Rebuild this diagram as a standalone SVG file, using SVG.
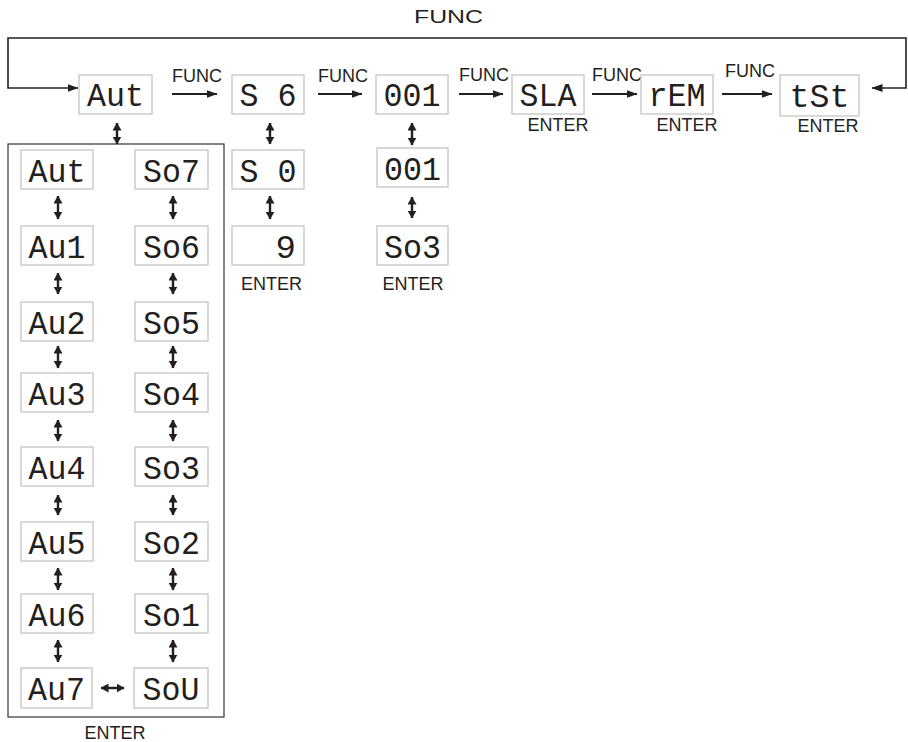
<svg xmlns="http://www.w3.org/2000/svg" width="908" height="742" viewBox="0 0 908 742">
<style>
.lbl{font-family:"Liberation Sans",Arial,sans-serif;font-size:18px;fill:#231f20;text-anchor:middle}
.seg{font-family:"Liberation Mono","DejaVu Sans Mono",monospace;font-size:34px;fill:#231f20;text-anchor:middle}
.box{fill:#fff;stroke:#cccccc;stroke-width:1.5}
.frame{fill:none;stroke:#333;stroke-width:1.2}
.ln{fill:none;stroke:#231f20;stroke-width:2}
.dl{fill:none;stroke:#231f20;stroke-width:2.4}
.lp{fill:none;stroke:#231f20;stroke-width:1.6}
</style>
<defs>
<marker id="ah" viewBox="0 0 11 8" refX="10.5" refY="4" markerWidth="11" markerHeight="8" orient="auto-start-reverse" markerUnits="userSpaceOnUse"><path d="M0,0 L11,4 L0,8 z" fill="#231f20"/></marker>
<marker id="dh" viewBox="0 0 8 9" refX="7.5" refY="4.5" markerWidth="8" markerHeight="9" orient="auto-start-reverse" markerUnits="userSpaceOnUse"><path d="M0,0 L8,4.5 L0,9 z" fill="#231f20"/></marker>
</defs>
<rect width="908" height="742" fill="#fff"/>

<g id="connectors">
<text class="lbl" x="448.5" y="23" textLength="69" lengthAdjust="spacingAndGlyphs">FUNC</text>
<path class="lp" d="M872,88 H906 V38 H8 V88 H78" marker-start="url(#ah)" marker-end="url(#ah)"/>
<line class="ln" x1="172" y1="94" x2="217" y2="94" marker-end="url(#ah)"/>
<text class="lbl" x="197" y="82">FUNC</text>
<line class="ln" x1="318" y1="94" x2="362" y2="94" marker-end="url(#ah)"/>
<text class="lbl" x="343" y="82">FUNC</text>
<line class="ln" x1="459" y1="94" x2="503" y2="94" marker-end="url(#ah)"/>
<text class="lbl" x="484" y="81">FUNC</text>
<line class="ln" x1="592" y1="94" x2="637" y2="94" marker-end="url(#ah)"/>
<text class="lbl" x="617" y="81">FUNC</text>
<line class="ln" x1="722" y1="94" x2="772" y2="94" marker-end="url(#ah)"/>
<text class="lbl" x="750" y="77">FUNC</text>
<line class="dl" x1="117" y1="123" x2="117" y2="144" marker-start="url(#dh)" marker-end="url(#dh)"/>
<line class="dl" x1="270" y1="123" x2="270" y2="144" marker-start="url(#dh)" marker-end="url(#dh)"/>
<line class="dl" x1="412" y1="123" x2="412" y2="145" marker-start="url(#dh)" marker-end="url(#dh)"/>
<line class="dl" x1="270" y1="196" x2="270" y2="219" marker-start="url(#dh)" marker-end="url(#dh)"/>
<line class="dl" x1="412" y1="197" x2="412" y2="218" marker-start="url(#dh)" marker-end="url(#dh)"/>
<g id="col-arrows">
<line class="dl" x1="58" y1="196" x2="58" y2="219" marker-start="url(#dh)" marker-end="url(#dh)"/>
<line class="dl" x1="173" y1="196" x2="173" y2="219" marker-start="url(#dh)" marker-end="url(#dh)"/>
<line class="dl" x1="58" y1="273" x2="58" y2="294" marker-start="url(#dh)" marker-end="url(#dh)"/>
<line class="dl" x1="173" y1="273" x2="173" y2="294" marker-start="url(#dh)" marker-end="url(#dh)"/>
<line class="dl" x1="58" y1="346" x2="58" y2="368" marker-start="url(#dh)" marker-end="url(#dh)"/>
<line class="dl" x1="173" y1="346" x2="173" y2="368" marker-start="url(#dh)" marker-end="url(#dh)"/>
<line class="dl" x1="58" y1="420" x2="58" y2="441" marker-start="url(#dh)" marker-end="url(#dh)"/>
<line class="dl" x1="173" y1="420" x2="173" y2="441" marker-start="url(#dh)" marker-end="url(#dh)"/>
<line class="dl" x1="58" y1="495" x2="58" y2="515" marker-start="url(#dh)" marker-end="url(#dh)"/>
<line class="dl" x1="173" y1="495" x2="173" y2="515" marker-start="url(#dh)" marker-end="url(#dh)"/>
<line class="dl" x1="58" y1="568" x2="58" y2="590" marker-start="url(#dh)" marker-end="url(#dh)"/>
<line class="dl" x1="173" y1="568" x2="173" y2="590" marker-start="url(#dh)" marker-end="url(#dh)"/>
<line class="dl" x1="58" y1="640" x2="58" y2="662" marker-start="url(#dh)" marker-end="url(#dh)"/>
<line class="dl" x1="173" y1="640" x2="173" y2="662" marker-start="url(#dh)" marker-end="url(#dh)"/>
<line class="dl" x1="101" y1="688" x2="124" y2="688" marker-start="url(#dh)" marker-end="url(#dh)"/>
</g>
</g>

<g id="mode-frame">
<rect class="frame" x="8" y="144" width="216" height="573"/>
<text class="lbl" x="115" y="739">ENTER</text>
</g>

<g id="n-aut"><rect class="box" x="79" y="75" width="73" height="39"/><text class="seg" x="115.5" y="106" textLength="57" lengthAdjust="spacingAndGlyphs">Aut</text></g>
<g id="n-s6"><rect class="box" x="232" y="75" width="72" height="39"/><text class="seg" x="268" y="106" textLength="57" lengthAdjust="spacingAndGlyphs" xml:space="preserve">S 6</text></g>
<g id="n-001"><rect class="box" x="376" y="75" width="72" height="39"/><text class="seg" x="412" y="106" textLength="57" lengthAdjust="spacingAndGlyphs">001</text></g>
<g id="n-sla"><rect class="box" x="512" y="75" width="72" height="39"/><text class="seg" x="548" y="106" textLength="57" lengthAdjust="spacingAndGlyphs">SLA</text><text class="lbl" x="558" y="131">ENTER</text></g>
<g id="n-rem"><rect class="box" x="641" y="75" width="72" height="39"/><text class="seg" x="677" y="106" textLength="57" lengthAdjust="spacingAndGlyphs">rEM</text><text class="lbl" x="687" y="131">ENTER</text></g>
<g id="n-tst"><rect class="box" x="780" y="75" width="79" height="41"/><text class="seg" x="819.5" y="107" textLength="60" lengthAdjust="spacingAndGlyphs">tSt</text><text class="lbl" x="828" y="132">ENTER</text></g>

<g id="n-s0"><rect class="box" x="232" y="150" width="72" height="39"/><text class="seg" x="268" y="182" textLength="57" lengthAdjust="spacingAndGlyphs" xml:space="preserve">S 0</text></g>
<g id="n-9"><rect class="box" x="232" y="226" width="72" height="39"/><text class="seg" x="296" y="258" style="text-anchor:end">9</text><text class="lbl" x="271.5" y="290">ENTER</text></g>
<g id="n-001b"><rect class="box" x="377" y="148" width="71" height="39"/><text class="seg" x="412.5" y="180" textLength="57" lengthAdjust="spacingAndGlyphs">001</text></g>
<g id="n-so3b"><rect class="box" x="377" y="226" width="71" height="39"/><text class="seg" x="412.5" y="258" textLength="57" lengthAdjust="spacingAndGlyphs">So3</text><text class="lbl" x="413" y="290">ENTER</text></g>

<g id="n-aut2"><rect class="box" x="21" y="150" width="72" height="39"/><text class="seg" x="57" y="182" textLength="57" lengthAdjust="spacingAndGlyphs">Aut</text></g>
<g id="n-au1"><rect class="box" x="21" y="226" width="72" height="39"/><text class="seg" x="57" y="258" textLength="57" lengthAdjust="spacingAndGlyphs">Au1</text></g>
<g id="n-au2"><rect class="box" x="21" y="302" width="72" height="39"/><text class="seg" x="57" y="334" textLength="57" lengthAdjust="spacingAndGlyphs">Au2</text></g>
<g id="n-au3"><rect class="box" x="21" y="373" width="72" height="39"/><text class="seg" x="57" y="405" textLength="57" lengthAdjust="spacingAndGlyphs">Au3</text></g>
<g id="n-au4"><rect class="box" x="21" y="447" width="72" height="39"/><text class="seg" x="57" y="479" textLength="57" lengthAdjust="spacingAndGlyphs">Au4</text></g>
<g id="n-au5"><rect class="box" x="21" y="522" width="72" height="39"/><text class="seg" x="57" y="554" textLength="57" lengthAdjust="spacingAndGlyphs">Au5</text></g>
<g id="n-au6"><rect class="box" x="21" y="594" width="72" height="39"/><text class="seg" x="57" y="626" textLength="57" lengthAdjust="spacingAndGlyphs">Au6</text></g>
<g id="n-au7"><rect class="box" x="21" y="668" width="71" height="40"/><text class="seg" x="56.5" y="700" textLength="57" lengthAdjust="spacingAndGlyphs">Au7</text></g>

<g id="n-so7"><rect class="box" x="135" y="150" width="73" height="39"/><text class="seg" x="171.5" y="182" textLength="57" lengthAdjust="spacingAndGlyphs">So7</text></g>
<g id="n-so6"><rect class="box" x="135" y="226" width="73" height="39"/><text class="seg" x="171.5" y="258" textLength="57" lengthAdjust="spacingAndGlyphs">So6</text></g>
<g id="n-so5"><rect class="box" x="135" y="302" width="73" height="39"/><text class="seg" x="171.5" y="334" textLength="57" lengthAdjust="spacingAndGlyphs">So5</text></g>
<g id="n-so4"><rect class="box" x="135" y="373" width="73" height="39"/><text class="seg" x="171.5" y="405" textLength="57" lengthAdjust="spacingAndGlyphs">So4</text></g>
<g id="n-so3"><rect class="box" x="135" y="447" width="73" height="39"/><text class="seg" x="171.5" y="479" textLength="57" lengthAdjust="spacingAndGlyphs">So3</text></g>
<g id="n-so2"><rect class="box" x="135" y="522" width="73" height="39"/><text class="seg" x="171.5" y="554" textLength="57" lengthAdjust="spacingAndGlyphs">So2</text></g>
<g id="n-so1"><rect class="box" x="135" y="594" width="73" height="39"/><text class="seg" x="171.5" y="626" textLength="57" lengthAdjust="spacingAndGlyphs">So1</text></g>
<g id="n-sou"><rect class="box" x="134" y="668" width="74" height="40"/><text class="seg" x="171" y="700" textLength="57" lengthAdjust="spacingAndGlyphs">SoU</text></g>
</svg>
